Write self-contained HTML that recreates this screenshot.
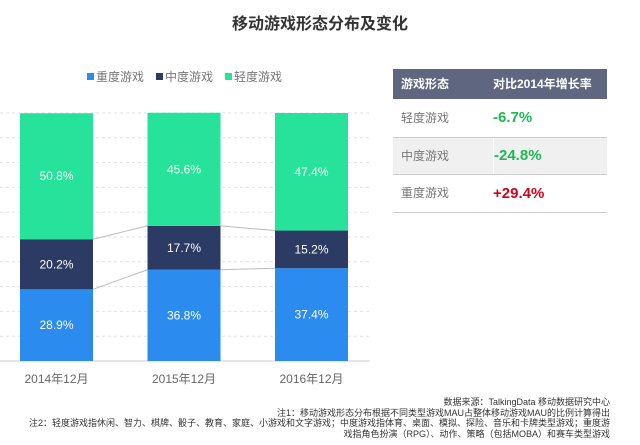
<!DOCTYPE html>
<html><head><meta charset="utf-8"><style>
body{margin:0;width:640px;height:445px;background:#fff;font-family:"Liberation Sans","Noto Sans CJK SC",sans-serif;position:relative;overflow:hidden}
.t{position:absolute}
</style></head><body>
<div class="t" style="left:0;width:640px;top:10px;text-align:center;font-size:16px;font-weight:bold;color:#333">移动游戏形态分布及变化</div>
<svg width="640" height="445" style="position:absolute;left:0;top:0">
<g id="legend"></g><g id="grid"></g><g id="bars"></g><g id="labels"></g>
</svg>
<div style="position:absolute;left:393px;top:69px;width:214px;font-size:12px">
 <div style="background:#5f6680;color:#fff;height:30px;line-height:30px;font-weight:bold;display:flex"><span style="width:92px;padding-left:8px">游戏形态</span><span>对比2014年增长率</span></div>
 <div style="height:38px;line-height:38px;display:flex;border-bottom:1px solid #ccc"><span style="width:92px;padding-left:8px;color:#777">轻度游戏</span><span style="color:#1db954;font-weight:bold;font-size:15px">-6.7%</span></div>
 <div style="height:36px;line-height:36px;display:flex;background:#f0f0f0;border-bottom:1px solid #ccc"><span style="width:92px;padding-left:8px;color:#777;border-right:1px solid #fff">中度游戏</span><span style="color:#1db954;font-weight:bold;font-size:15px">-24.8%</span></div>
 <div style="height:37px;line-height:37px;display:flex;border-bottom:1px solid #ccc"><span style="width:92px;padding-left:8px;color:#777">重度游戏</span><span style="color:#d0021b;font-weight:bold;font-size:15px">+29.4%</span></div>
</div>
<div style="position:absolute;right:30px;top:397px;text-align:right;font-size:9px;line-height:10.5px;color:#333;width:620px">数据来源：TalkingData 移动数据研究中心<br>注1：移动游戏形态分布根据不同类型游戏MAU占整体移动游戏MAU的比例计算得出<br>注2：轻度游戏指休闲、智力、棋牌、骰子、教育、家庭、小游戏和文字游戏；中度游戏指体育、桌面、模拟、探险、音乐和卡牌类型游戏；重度游<br>戏指角色扮演（RPG）、动作、策略（包括MOBA）和赛车类型游戏</div>
<script>
const categories=["2014年12月","2015年12月","2016年12月"];
const heavy=[28.9,36.8,37.4];
const medium=[20.2,17.7,15.2];
const light=[50.8,45.6,47.4];
const seriesNames=["重度游戏","中度游戏","轻度游戏"];
const colors=["#2b8bef","#2b3b64","#26e29b"];
const NS="http://www.w3.org/2000/svg";
const top0=113,bot=361,H=bot-top0,x0=20,step=127.5,bw=73;
const y=v=>bot-v/100*H, xb=i=>x0+i*step;
function mk(t,a,p){const e=document.createElementNS(NS,t);for(const k in a)e.setAttribute(k,a[k]);p.appendChild(e);return e;}
const g=document.getElementById('grid');
for(let k=0;k<=10;k++){const yy=bot-k*H/10;
const l=mk('line',{x1:0,x2:370,y1:yy,y2:yy,stroke:k==0?'#ccc':'#e2e2e2','stroke-dasharray':k==0?'':'3,3'},g);

}
const bars=document.getElementById('bars'),lab=document.getElementById('labels');
const data=[heavy,medium,light];
for(let i=0;i<categories.length;i++){let c=0;
 for(let s=0;s<3;s++){const v=data[s][i];
  const r=mk('rect',{x:xb(i),y:y(c+v),width:bw,height:y(c)-y(c+v),fill:colors[s]},bars);
  
  
  const t=mk('text',{x:xb(i)+bw/2,y:(y(c)+y(c+v))/2+4,fill:'#fff','font-size':12,'text-anchor':'middle'},lab);
  t.textContent=v.toFixed(1)+'%';
  
  
  c+=v;}
 const xl=mk('text',{x:xb(i)+bw/2,y:383,fill:'#666','font-size':12,'text-anchor':'middle'},lab);
 xl.textContent=categories[i];
 
 
 if(i<categories.length-1){for(const lv of [heavy,heavy.map((h,j)=>h+medium[j])]){
  const cl=mk('line',{x1:xb(i)+bw,y1:y(lv[i]),x2:xb(i+1),y2:y(lv[i+1]),stroke:'#bbb','stroke-width':1},bars);
  
  }}
}
const lg=document.getElementById('legend');const lx=[87,156,225];
for(let s=0;s<3;s++){
 const r=mk('rect',{x:lx[s],y:73,width:7,height:7,fill:colors[s]},lg);
 
 
 const t=mk('text',{x:lx[s]+9,y:81,fill:'#777','font-size':12},lg);
 t.textContent=seriesNames[s];
 
 }
</script>
</body></html>
